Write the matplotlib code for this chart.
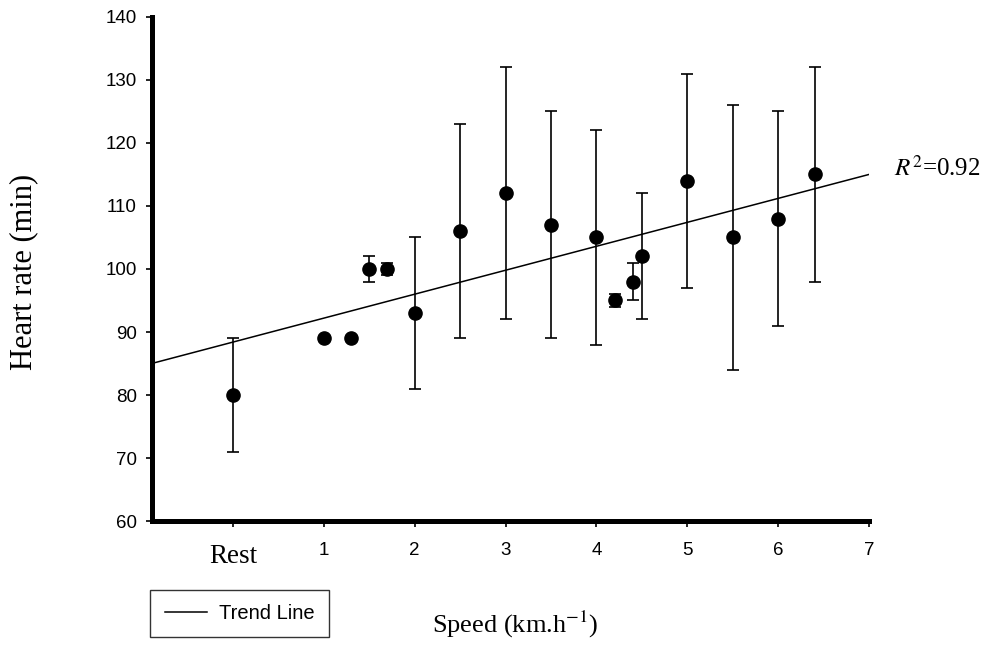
import numpy as np
import matplotlib.pyplot as plt
from matplotlib.transforms import blended_transform_factory

plt.rcParams['font.family'] = 'Liberation Sans'
plt.rcParams['mathtext.fontset'] = 'stix'

# mean heart rate per walking speed (0 = rest) with error half-widths
speed = [0, 1.0, 1.3, 1.5, 1.7, 2.0, 2.5, 3.0, 3.5, 4.0, 4.2, 4.4, 4.5, 5.0, 5.5, 6.0, 6.4]
hr_mean = [80, 89, 89, 100, 100, 93, 106, 112, 107, 105, 95, 98, 102, 114, 105, 108, 115]
hr_err = [9, 0, 0, 2, 1, 12, 17, 20, 18, 17, 1, 3, 10, 17, 21, 17, 17]

# linear trend
trend_slope = 3.8
trend_icpt = 88.4
r_squared = 0.92

xticks = [0, 1, 2, 3, 4, 5, 6, 7]
xtick_labels = ['', '1', '2', '3', '4', '5', '6', '7']
yticks = [60, 70, 80, 90, 100, 110, 120, 130, 140]

fig = plt.figure(figsize=(9.9, 6.45), dpi=100)
ax = fig.add_axes([0.1535, 0.192, 0.7245, 0.782])

ax.errorbar(speed, hr_mean, yerr=hr_err, fmt='o', color='black', ms=9.5,
            elinewidth=1.2, capsize=4.3, capthick=1.2, zorder=3)

xs = np.array([-0.89, 7])
line, = ax.plot(xs, trend_slope * xs + trend_icpt, color='black', lw=1.1, label='Trend Line')

ax.set_xlim(-0.89, 7)
ax.set_ylim(60, 140)
ax.set_xticks(xticks)
ax.set_xticklabels(xtick_labels)
ax.set_yticks(yticks)

for side in ['top', 'right']:
    ax.spines[side].set_visible(False)
for side in ['left', 'bottom']:
    ax.spines[side].set_linewidth(3.6)
ax.tick_params(direction='out', length=4, width=1.2, labelsize=13.5)
ax.tick_params(axis='x', pad=11)
ax.tick_params(axis='y', pad=7)

trans = blended_transform_factory(ax.transData, ax.transAxes)
ax.text(0, -0.071, 'Rest', transform=trans, ha='center', va='center',
        fontsize=19.5, family='Liberation Serif')

ax.text(7.27, 116, r'$R^{2}$=%.2f' % r_squared, ha='left', va='center',
        fontsize=18, family='Liberation Serif', clip_on=False)

fig.text(0.52, 0.032, r'Speed (km.h$^{-1}$)', ha='center', va='center',
         fontsize=19, family='Liberation Serif')
fig.text(0.024, 0.579, 'Heart rate (min)', ha='center', va='center', rotation=90,
         fontsize=22, family='Liberation Serif')

leg = fig.legend(handles=[line], loc='lower left', bbox_to_anchor=(0.152, 0.012),
                 fontsize=14.5, frameon=True, fancybox=False, handlelength=2.1,
                 handletextpad=0.6, borderpad=0.7, borderaxespad=0)
leg.get_frame().set_edgecolor('black')
leg.get_frame().set_linewidth(1.0)

fig.savefig('out.png', dpi=100)
